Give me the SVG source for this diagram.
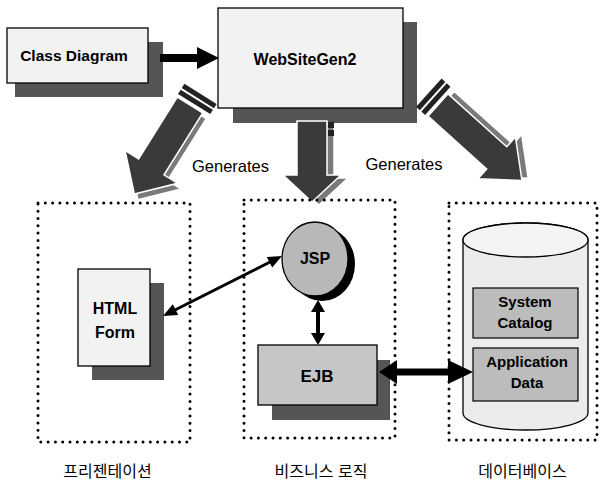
<svg xmlns="http://www.w3.org/2000/svg" width="601" height="482" viewBox="0 0 601 482">
<style>
.box{fill:#f2f2f2;stroke:#000;stroke-width:1.3}
.shadow{fill:#555}
.dots{fill:none;stroke:#000;stroke-width:3;stroke-linecap:round;stroke-dasharray:0 7.3}
.lbl{font-family:"Liberation Sans",Arial,sans-serif;font-weight:bold;text-anchor:middle;fill:#000}
.gen{font-family:"Liberation Sans",Arial,sans-serif;font-size:16.5px;text-anchor:middle;fill:#000}
.kr{font-family:"Liberation Sans","Noto Sans CJK KR",sans-serif;font-size:16px;text-anchor:middle;fill:#000}
.fat{fill:#3a3a3a;stroke:#fff;stroke-width:1.5}
.fatsh{fill:#7a7a7a;stroke:#fff;stroke-width:1.5}
.stripe{fill:#222}
.head{fill:#000}
.ln{stroke:#000;fill:none}
</style>
<rect width="601" height="482" fill="#fff"/>

<g id="class-diagram">
  <rect class="shadow" x="15" y="42" width="148" height="55"/>
  <rect class="box" x="7" y="28" width="141" height="55"/>
  <text class="lbl" x="74" y="61" font-size="15.5">Class Diagram</text>
</g>

<g id="websitegen2">
  <rect class="shadow" x="233" y="22" width="184" height="101"/>
  <rect class="box" x="218" y="8" width="185" height="100"/>
  <text class="lbl" x="305" y="65" font-size="16">WebSiteGen2</text>
</g>

<g id="generate-arrows">
  <g transform="translate(190,105) rotate(32)">
    <rect class="stripe" x="-16" y="-15" width="38" height="5"/>
    <rect class="stripe" x="-16" y="-8" width="38" height="5"/>
    <path class="fatsh" transform="translate(6,3)" d="M-15 0 L15 0 L15 73 L31 73 L0 105 L-31 73 L-15 73 Z"/>
    <path class="fat" d="M-15 0 L15 0 L15 73 L31 73 L0 105 L-31 73 L-15 73 Z"/>
  </g>
  <g transform="translate(312,121)">
    <path class="fatsh" transform="translate(7,3)" d="M-15 0 L15 0 L15 54 L29 54 L0 81 L-29 54 L-15 54 Z"/>
    <rect class="stripe" x="16" y="1" width="6" height="6"/>
    <rect class="stripe" x="16" y="9" width="6" height="6"/>
    <path class="fat" d="M-15 0 L15 0 L15 54 L29 54 L0 81 L-29 54 L-15 54 Z"/>
  </g>
  <g transform="translate(438,105) rotate(-48)">
    <rect class="stripe" x="-16" y="-15" width="38" height="5"/>
    <rect class="stripe" x="-16" y="-8" width="38" height="5"/>
    <path class="fatsh" transform="translate(6,3)" d="M-15 0 L15 0 L15 79 L28 79 L0 113 L-28 79 L-15 79 Z"/>
    <path class="fat" d="M-15 0 L15 0 L15 79 L28 79 L0 113 L-28 79 L-15 79 Z"/>
  </g>
  <text class="gen" x="230.5" y="172">Generates</text>
  <text class="gen" x="404" y="170">Generates</text>
</g>

<g id="tier-presentation">
  <rect class="dots" x="38" y="203" width="152" height="239"/>
  <text class="kr" x="107.5" y="477">프리젠테이션</text>
</g>
<g id="tier-business">
  <rect class="dots" x="244" y="200" width="151" height="238"/>
  <text class="kr" x="321" y="477">비즈니스 로직</text>
</g>
<g id="tier-database">
  <rect class="dots" x="449" y="203" width="148" height="237"/>
  <text class="kr" x="522.5" y="477">데이터베이스</text>
</g>

<g id="html-form">
  <rect class="shadow" x="92" y="283" width="72" height="97"/>
  <rect class="box" x="78" y="269" width="72" height="97"/>
  <text class="lbl" x="115" y="314" font-size="16">HTML</text>
  <text class="lbl" x="115" y="338" font-size="16">Form</text>
</g>

<g id="jsp">
  <ellipse cx="322" cy="264" rx="33" ry="37" fill="#000"/>
  <ellipse cx="315" cy="259" rx="33" ry="37" fill="#b8b8b8" stroke="#000" stroke-width="1.3"/>
  <text class="lbl" x="315" y="264" font-size="16">JSP</text>
</g>

<g id="ejb">
  <rect class="shadow" x="272" y="360" width="118" height="60" fill="#444"/>
  <rect x="258" y="345" width="119" height="60" fill="#c6c6c6" stroke="#000" stroke-width="1.3"/>
  <text class="lbl" x="317" y="382" font-size="17">EJB</text>
</g>

<g id="database">
  <path d="M463 240 L463 413 A62.5 17 0 0 0 588 413 L588 240 A62.5 17 0 0 0 463 240 Z" fill="#ececec" stroke="#000" stroke-width="1.3"/>
  <ellipse cx="525.5" cy="240" rx="62.5" ry="17" fill="#f4f4f4" stroke="#000" stroke-width="1.3"/>
  <g id="system-catalog">
    <rect x="473" y="288" width="105" height="50" fill="#bcbcbc" stroke="#000" stroke-width="1.2"/>
    <text class="lbl" x="525" y="307" font-size="15">System</text>
    <text class="lbl" x="525" y="328" font-size="15">Catalog</text>
  </g>
  <g id="application-data">
    <rect x="473" y="348" width="105" height="53" fill="#bcbcbc" stroke="#000" stroke-width="1.2"/>
    <text class="lbl" x="527" y="367" font-size="15">Application</text>
    <text class="lbl" x="527" y="388" font-size="15">Data</text>
  </g>
</g>

<g id="connectors">
  <line class="ln" x1="160" y1="58" x2="199" y2="58" stroke-width="8"/>
  <polygon class="head" points="219,58 197,47 197,69"/>

  <line class="ln" x1="175" y1="310" x2="270" y2="262" stroke-width="3"/>
  <polygon class="head" points="282,256 272.2,267.6 266.8,256.9"/>
  <polygon class="head" points="163,316 178.2,315.1 172.8,304.3"/>

  <line class="ln" x1="318" y1="311" x2="318" y2="334" stroke-width="4"/>
  <polygon class="head" points="318,300 311,312 325,312"/>
  <polygon class="head" points="318,345 311,333 325,333"/>

  <line class="ln" x1="396" y1="372" x2="449" y2="372" stroke-width="7"/>
  <polygon class="head" points="473,372 448,360 448,384"/>
  <polygon class="head" points="379,372 397,360 397,384"/>
</g>
</svg>
